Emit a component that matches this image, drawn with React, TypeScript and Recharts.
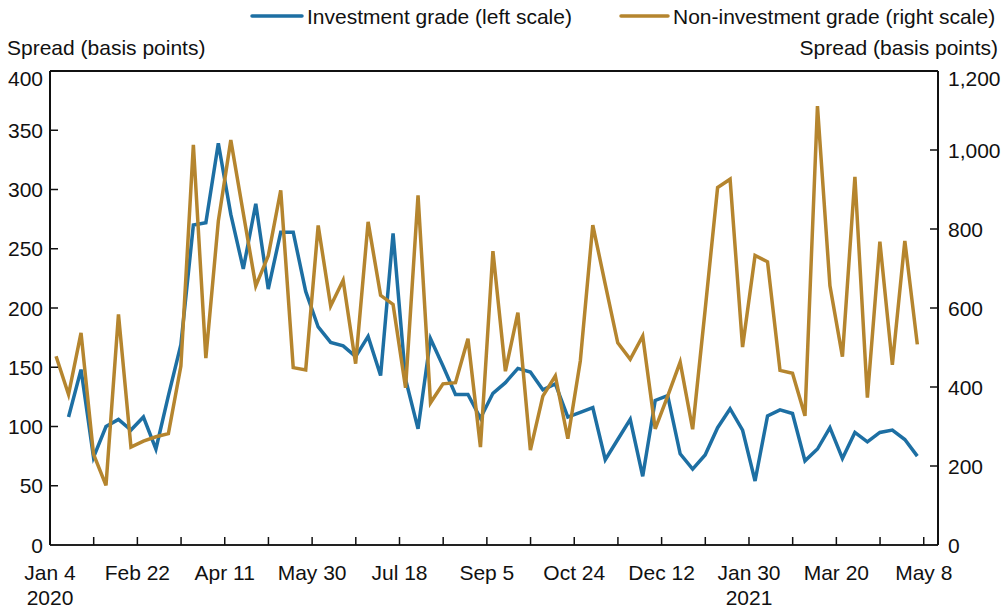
import React from 'react'
import { LineChart, Line, XAxis, YAxis, ReferenceLine } from 'recharts'

const FONT = '"Liberation Sans", Arial, Helvetica, sans-serif'
const INK = '#111'
const C = {
  ig: '#1d6fa3',
  hy: '#b5852e',
} as const

// Weekly observations. Day offsets are counted from Sat Jan 4 2020; the
// first reading lands mid-week, the investment-grade series starts a week later.
const FIRST_OBS_DAY = 3.4

// Investment grade, left scale (basis points)
const igSpread = [
  108, 148, 74, 100, 106, 97, 108, 81, 126, 169,
  270, 272, 339, 279, 233, 288, 216, 264, 264, 214,
  184, 171, 168, 159, 176, 143, 263, 140, 98, 174,
  151, 127, 127, 107, 128, 137, 149, 146, 131, 136,
  108, 112, 116, 72, 89, 106, 58, 122, 126, 77,
  64, 76, 99, 115, 97, 54, 109, 114, 111, 71,
  81, 99, 73, 95, 87, 95, 97, 89, 75,
]

// Non-investment grade, right scale (basis points)
const hySpread = [
  478, 381, 537, 230, 151, 584, 248, 263, 274, 282,
  453, 1013, 473, 820, 1025, 840, 656, 732, 898, 449,
  443, 809, 605, 670, 459, 818, 632, 609, 398, 885,
  360, 408, 411, 522, 248, 744, 440, 588, 240, 377,
  428, 269, 466, 810, 660, 512, 470, 529, 294, 377,
  463, 293, 595, 905, 926, 501, 733, 717, 442, 435,
  327, 1111, 656, 477, 932, 373, 768, 456, 770, 508,
]

// every 7 weeks, with an unlabeled tick half way between
const tickLabels = ['Jan 4', 'Feb 22', 'Apr 11', 'May 30', 'Jul 18', 'Sep 5', 'Oct 24', 'Dec 12', 'Jan 30', 'Mar 20', 'May 8']
const tickYears = ['2020', '', '', '', '', '', '', '', '2021', '', '']
const leftTicks = [0, 50, 100, 150, 200, 250, 300, 350, 400]
const rightTicks = [0, 200, 400, 600, 800, 1000, 1200]

const TICK_STEP = 49
const xTicks: number[] = []
tickLabels.forEach((_, i) => {
  xTicks.push(i * TICK_STEP)
  if (i < tickLabels.length - 1) xTicks.push(i * TICK_STEP + TICK_STEP / 2)
})

const data = hySpread.map((hy, i) => ({
  day: FIRST_OBS_DAY + 7 * i,
  hy,
  ig: i === 0 ? null : igSpread[i - 1],
}))

const textStyle = { fontFamily: FONT, fontSize: 21, fill: INK }

function XTick(props: any) {
  const { x, y, payload } = props
  const idx = Math.round(payload.value / (TICK_STEP / 2))
  const major = idx % 2 === 0
  const label = major ? tickLabels[idx / 2] : ''
  const year = major ? tickYears[idx / 2] : ''
  return (
    <g>
      <line x1={x} x2={x} y1={y} y2={y - 8} stroke={INK} strokeWidth={1.5} />
      {label && (
        <text x={x} y={y + 35} textAnchor="middle" style={textStyle}>{label}</text>
      )}
      {year && (
        <text x={x} y={y + 60} textAnchor="middle" style={textStyle}>{year}</text>
      )}
    </g>
  )
}

function LeftTick(props: any) {
  const { x, y, payload } = props
  const v = payload.value as number
  // top label sits a little below its tick, as in the original
  const dy = v === 400 ? 14.5 : 7.5
  return (
    <g>
      {v !== 0 && <line x1={x} x2={x + 8} y1={y} y2={y} stroke={INK} strokeWidth={1.5} />}
      <text x={x - 7} y={y + dy} textAnchor="end" style={textStyle}>{v}</text>
    </g>
  )
}

function RightTick(props: any) {
  const { x, y, payload } = props
  const v = payload.value as number
  const dy = v === 1200 ? 15 : 7.5
  return (
    <g>
      {v !== 0 && <line x1={x} x2={x - 8} y1={y} y2={y} stroke={INK} strokeWidth={1.5} />}
      <text x={x + 10} y={y + dy} textAnchor="start" style={textStyle}>{v.toLocaleString('en-US')}</text>
    </g>
  )
}

export default function App() {
  return (
    <div style={{ position: 'absolute', left: 0, top: 0, width: 1008, height: 609, background: '#fff' }}>
      <LineChart
        width={1008}
        height={609}
        data={data}
        margin={{ top: 71, right: 0, bottom: 0, left: 0 }}
      >
        <XAxis
          type="number"
          dataKey="day"
          domain={[0, 498]}
          ticks={xTicks}
          interval={0}
          allowDataOverflow
          height={64}
          tickSize={0}
          tickMargin={0}
          tickLine={false}
          axisLine={{ stroke: '#222', strokeWidth: 2 }}
          tick={(p: any) => <XTick {...p} />}
        />
        <YAxis
          yAxisId="left"
          orientation="left"
          domain={[0, 400]}
          ticks={leftTicks}
          interval={0}
          width={50}
          tickSize={0}
          tickMargin={0}
          tickLine={false}
          axisLine={{ stroke: INK, strokeWidth: 2 }}
          tick={(p: any) => <LeftTick {...p} />}
        />
        <YAxis
          yAxisId="right"
          orientation="right"
          domain={[0, 1200]}
          ticks={rightTicks}
          interval={0}
          width={70}
          tickSize={0}
          tickMargin={0}
          tickLine={false}
          axisLine={{ stroke: INK, strokeWidth: 2 }}
          tick={(p: any) => <RightTick {...p} />}
        />
        <ReferenceLine yAxisId="left" y={400} stroke={INK} strokeWidth={2} />
        <Line
          yAxisId="left"
          type="linear"
          dataKey="ig"
          stroke={C.ig}
          strokeWidth={3.5}
          dot={false}
          activeDot={false}
          isAnimationActive={false}
        />
        <Line
          yAxisId="right"
          type="linear"
          dataKey="hy"
          stroke={C.hy}
          strokeWidth={3.5}
          dot={false}
          activeDot={false}
          isAnimationActive={false}
        />
      </LineChart>
      <svg
        width={1008}
        height={609}
        style={{ position: 'absolute', left: 0, top: 0, pointerEvents: 'none' }}
      >
        <line x1={252} x2={302} y1={16} y2={16} stroke={C.ig} strokeWidth={3.5} strokeLinecap="round" />
        <text x={307} y={23.5} style={textStyle}>Investment grade (left scale)</text>
        <line x1={621} x2={668} y1={16} y2={16} stroke={C.hy} strokeWidth={3.5} strokeLinecap="round" />
        <text x={673} y={23.5} style={textStyle}>Non-investment grade (right scale)</text>
        <text x={7} y={55} style={textStyle}>Spread (basis points)</text>
        <text x={998} y={55} textAnchor="end" style={textStyle}>Spread (basis points)</text>
      </svg>
    </div>
  )
}
